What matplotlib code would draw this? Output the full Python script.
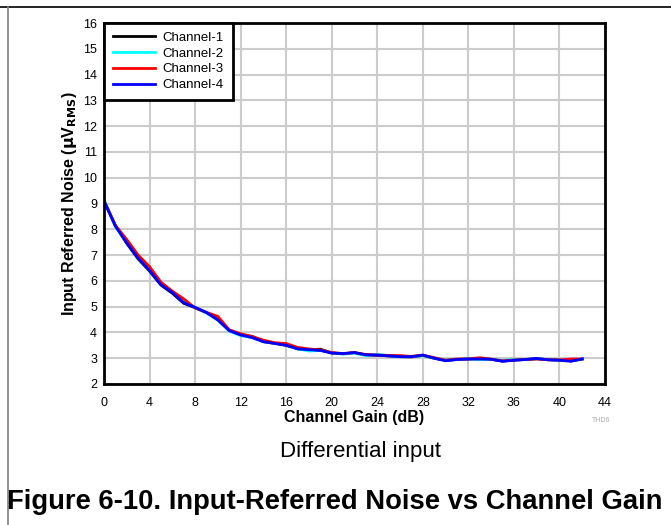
import numpy as np
import matplotlib.pyplot as plt
from matplotlib.lines import Line2D

plt.rcParams['font.family'] = ['Liberation Sans', 'DejaVu Sans']

gain_db = list(range(0, 43))

ch1 = [9.10, 8.15, 7.45, 6.85, 6.38, 5.84, 5.52, 5.13, 4.96, 4.77, 4.50,
       4.08, 3.90, 3.85, 3.64, 3.58, 3.50, 3.37, 3.33, 3.35, 3.20, 3.17,
       3.21, 3.13, 3.12, 3.09, 3.06, 3.05, 3.11, 3.00, 2.92, 2.95, 2.97,
       2.97, 2.96, 2.89, 2.93, 2.95, 2.98, 2.94, 2.93, 2.90, 2.97]
ch2 = [9.15, 8.10, 7.50, 6.90, 6.42, 5.90, 5.58, 5.20, 4.97, 4.75, 4.48,
       4.05, 3.88, 3.80, 3.66, 3.58, 3.52, 3.36, 3.28, 3.30, 3.21, 3.16,
       3.20, 3.10, 3.15, 3.10, 3.07, 3.06, 3.10, 3.00, 2.93, 2.95, 2.98,
       2.96, 2.95, 2.92, 2.95, 2.94, 2.98, 2.95, 2.92, 2.91, 2.97]
ch3 = [9.10, 8.15, 7.60, 7.00, 6.55, 5.95, 5.60, 5.30, 4.95, 4.78, 4.62,
       4.10, 3.95, 3.84, 3.70, 3.60, 3.57, 3.42, 3.36, 3.32, 3.22, 3.18,
       3.22, 3.14, 3.12, 3.11, 3.10, 3.07, 3.12, 3.02, 2.92, 2.97, 2.97,
       3.02, 2.96, 2.90, 2.93, 2.95, 2.97, 2.94, 2.93, 2.97, 2.97]
ch4 = [9.10, 8.12, 7.47, 6.88, 6.40, 5.85, 5.55, 5.15, 4.97, 4.77, 4.48,
       4.07, 3.90, 3.80, 3.64, 3.57, 3.50, 3.36, 3.33, 3.30, 3.20, 3.18,
       3.22, 3.13, 3.12, 3.09, 3.06, 3.06, 3.12, 3.00, 2.90, 2.95, 2.97,
       2.97, 2.96, 2.88, 2.92, 2.95, 2.99, 2.94, 2.92, 2.88, 2.97]

series = [ch1, ch2, ch3, ch4]
names = ['Channel-1', 'Channel-2', 'Channel-3', 'Channel-4']
colors = ['black', '#00ffff', '#ff0000', '#0000ff']

xticks = list(range(0, 45, 4))
yticks = list(range(2, 17))

fig = plt.figure(figsize=(6.71, 5.25), dpi=100)
ax = fig.add_axes([104 / 671, 1 - 384 / 525, (605 - 104) / 671, (384 - 23) / 525])

for vals, name, c in zip(series, names, colors):
    ax.plot(gain_db, vals, color=c, lw=2, label=name)

ax.set_xlim(0, 44)
ax.set_ylim(2, 16)
ax.set_xticks(xticks)
ax.set_yticks(yticks)
ax.tick_params(length=0, labelsize=9)
ax.tick_params(axis='x', pad=9)
ax.tick_params(axis='y', pad=5)
ax.grid(True, color='#cccccc', lw=1.5)
ax.set_axisbelow(True)
for s in ax.spines.values():
    s.set_linewidth(2)

ax.set_xlabel('Channel Gain (dB)', fontsize=11.5, fontweight='bold', labelpad=1)
ax.set_ylabel(r'Input Referred Noise ($\mathbf{\mu}$V$_{\mathbf{RMS}}$)',
              fontsize=11.5, fontweight='bold', labelpad=3)

leg = ax.legend(loc='upper left', fontsize=9.5, frameon=True, fancybox=False,
                borderaxespad=0, handlelength=3.2, borderpad=0.65,
                labelspacing=0.27, handletextpad=0.6)
leg.get_frame().set_edgecolor('black')
leg.get_frame().set_linewidth(2)
leg.get_frame().set_alpha(1)

fig.text(592 / 671, 1 - 421 / 525, 'THD6', fontsize=5, color='#aaaaaa',
         ha='left', va='center')
fig.text(360 / 671, 1 - 451 / 525, 'Differential input', fontsize=16,
         ha='center', va='center')
fig.text(335 / 671, 1 - 502 / 525,
         'Figure 6-10. Input-Referred Noise vs Channel Gain', fontsize=19.7,
         fontweight='bold', ha='center', va='center')

fig.add_artist(Line2D([0, 1], [1 - 7 / 525, 1 - 7 / 525], color='black', lw=1.2,
                      transform=fig.transFigure))
fig.add_artist(Line2D([7.5 / 671, 7.5 / 671], [0, 1 - 7 / 525], color='#808080',
                      lw=1.2, transform=fig.transFigure))

fig.savefig('out.png', dpi=100)
